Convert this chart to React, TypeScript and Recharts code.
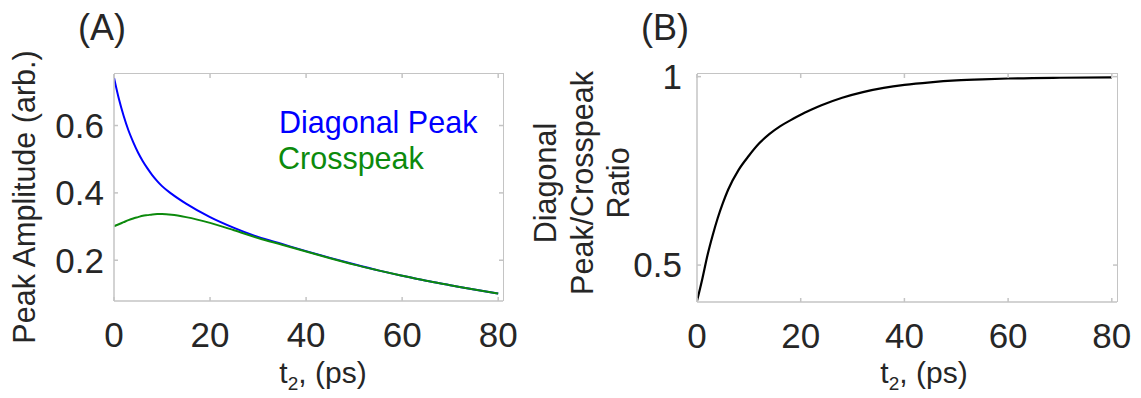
import React from "react";
import { LineChart, Line, XAxis, YAxis } from "recharts";

// panel A: peak amplitudes vs t2 (ps)
const tA = [0, 1, 2, 3, 4, 5, 6, 7, 8, 9, 10, 12, 15, 20, 25, 30, 35, 40, 45, 50, 55, 60, 65, 70, 75, 80];
const diagonalPeak = [
  0.742, 0.68, 0.629, 0.586, 0.551, 0.52, 0.494, 0.472, 0.452, 0.435, 0.42, 0.397, 0.368, 0.328,
  0.296, 0.269, 0.248, 0.227, 0.207, 0.188, 0.17, 0.154, 0.139, 0.126, 0.113, 0.101,
];
const crosspeak = [
  0.301, 0.307, 0.313, 0.319, 0.324, 0.328, 0.332, 0.334, 0.336, 0.337, 0.337, 0.335, 0.328, 0.311,
  0.289, 0.266, 0.246, 0.226, 0.206, 0.187, 0.17, 0.154, 0.139, 0.126, 0.113, 0.101,
];

// panel B: diagonal / crosspeak ratio
const tB = [0, 1, 2, 3, 4, 5, 6, 8, 10, 12, 14, 16, 18, 20, 22, 24, 28, 32, 36, 40, 45, 50, 55, 60, 70, 80];
const ratio = [
  0.405, 0.462, 0.525, 0.578, 0.625, 0.665, 0.7, 0.752, 0.79, 0.823, 0.848, 0.868, 0.884, 0.899,
  0.912, 0.924, 0.944, 0.959, 0.97, 0.978, 0.985, 0.99, 0.993, 0.995, 0.997, 0.998,
];

const xTicks = [0, 20, 40, 60, 80];
const yTicksA = [0.2, 0.4, 0.6];
const yTicksB = [0.5, 1];
const xDomain: [number, number] = [0, 81];
const yDomainA: [number, number] = [0.079, 0.753];
const yDomainB: [number, number] = [0.402, 1.007];

const dataA = tA.map((t, i) => ({ t, diag: diagonalPeak[i], cross: crosspeak[i] }));
const dataB = tB.map((t, i) => ({ t, ratio: ratio[i] }));

const FONT = "'Liberation Sans', Arial, sans-serif";
const BOX = "#c4c4c4";
const TXT = "#262626";
const boxLine = { stroke: BOX, strokeWidth: 1.5 };

const tickStyle = { fontSize: 35, fill: TXT, fontFamily: FONT };
const blank = () => "";

// chart sizes / margins (plot rect = margins + axis sizes)
const W_A = 560, M_A = { top: 73, right: 56, left: 54, bottom: 47 };
const W_B = 581, M_B = { top: 73, right: 23, left: 77, bottom: 46 };
const H = 398, Y_W = 60, X_H = 50;

function Frame({ x0, w, m }: any) {
  // top and right edges of the axes box
  const left = x0 + m.left + Y_W;
  const top = m.top + 1;
  return (
    <div
      style={{
        position: "absolute",
        left,
        top: top - 0.75,
        width: w - m.right - 1 - (m.left + Y_W) + 0.75,
        height: H - m.bottom - X_H - top + 0.75,
        borderTop: `1.5px solid ${BOX}`,
        borderRight: `1.5px solid ${BOX}`,
        boxSizing: "border-box",
        pointerEvents: "none",
      }}
    />
  );
}

function Txt({ x, y, size, color = TXT, children, rotate = false, center = true, lh }: any) {
  return (
    <div
      style={{
        position: "absolute",
        left: x,
        top: y,
        transform: `translate(${center ? "-50%" : "0"}, -50%)${rotate ? " rotate(-90deg)" : ""}`,
        fontFamily: FONT,
        fontSize: size,
        color,
        whiteSpace: "nowrap",
        textAlign: "center",
        lineHeight: lh ? `${lh}px` : "normal",
      }}
    >
      {children}
    </div>
  );
}

export default function App() {
  return (
    <div style={{ position: "absolute", left: 0, top: 0, width: 1141, height: H, background: "#fff" }}>
      <div style={{ position: "absolute", left: 0, top: 0 }}>
        <LineChart width={W_A} height={H} data={dataA} margin={M_A}>
          <XAxis dataKey="t" type="number" domain={xDomain} ticks={xTicks} allowDataOverflow height={X_H}
            axisLine={boxLine} tickLine={boxLine} tickSize={-4} tickMargin={25} tick={tickStyle} />
          <YAxis type="number" domain={yDomainA} ticks={yTicksA} allowDataOverflow width={Y_W}
            axisLine={boxLine} tickLine={boxLine} tickSize={-4} tickMargin={14} tick={tickStyle}
            tickFormatter={(v) => String(v)} />
          <XAxis xAxisId="top" orientation="top" dataKey="t" type="number" domain={xDomain} ticks={xTicks}
            allowDataOverflow height={1} axisLine={false} tickLine={boxLine} tickSize={-4} tickFormatter={blank} />
          <YAxis yAxisId="right" orientation="right" type="number" domain={yDomainA} ticks={yTicksA}
            allowDataOverflow width={1} axisLine={false} tickLine={boxLine} tickSize={-4} tickFormatter={blank} />
          <Line xAxisId="top" yAxisId="right" dataKey="cross" stroke="none" dot={false} activeDot={false}
            legendType="none" isAnimationActive={false} />
          <Line dataKey="diag" stroke="#0000ff" strokeWidth={2} dot={false} type="monotone" isAnimationActive={false} />
          <Line dataKey="cross" stroke="#0c8a0c" strokeWidth={2} dot={false} type="monotone" isAnimationActive={false} />
        </LineChart>
      </div>
      <Frame x0={0} w={W_A} m={M_A} />

      <div style={{ position: "absolute", left: W_A, top: 0 }}>
        <LineChart width={W_B} height={H} data={dataB} margin={M_B}>
          <XAxis dataKey="t" type="number" domain={xDomain} ticks={xTicks} allowDataOverflow height={X_H}
            axisLine={boxLine} tickLine={boxLine} tickSize={-4} tickMargin={25} tick={tickStyle} />
          <YAxis type="number" domain={yDomainB} ticks={yTicksB} allowDataOverflow width={Y_W}
            axisLine={boxLine} tickLine={boxLine} tickSize={-4} tickMargin={19} tick={tickStyle}
            tickFormatter={(v) => String(v)} />
          <XAxis xAxisId="top" orientation="top" dataKey="t" type="number" domain={xDomain} ticks={xTicks}
            allowDataOverflow height={1} axisLine={false} tickLine={boxLine} tickSize={-4} tickFormatter={blank} />
          <YAxis yAxisId="right" orientation="right" type="number" domain={yDomainB} ticks={yTicksB}
            allowDataOverflow width={1} axisLine={false} tickLine={boxLine} tickSize={-4} tickFormatter={blank} />
          <Line xAxisId="top" yAxisId="right" dataKey="ratio" stroke="none" dot={false} activeDot={false}
            legendType="none" isAnimationActive={false} />
          <Line dataKey="ratio" stroke="#000" strokeWidth={2.2} dot={false} type="monotone" isAnimationActive={false} />
        </LineChart>
      </div>
      <Frame x0={W_A} w={W_B} m={M_B} />

      <Txt x={102} y={28} size={36}>(A)</Txt>
      <Txt x={665} y={28} size={36}>(B)</Txt>

      <Txt x={24} y={197} size={30.5} rotate>Peak Amplitude (arb.)</Txt>
      <Txt x={582} y={183} size={30.5} rotate lh={36.5}>
        Diagonal<br />Peak/Crosspeak<br />Ratio
      </Txt>

      <Txt x={323} y={375} size={30}>
        t<sub style={{ fontSize: 19 }}>2</sub>, (ps)
      </Txt>
      <Txt x={924} y={375} size={30}>
        t<sub style={{ fontSize: 19 }}>2</sub>, (ps)
      </Txt>

      <Txt x={279} y={122} size={30.5} color="#0000ff" center={false}>Diagonal Peak</Txt>
      <Txt x={278} y={158} size={30.5} color="#0c8a0c" center={false}>Crosspeak</Txt>
    </div>
  );
}
